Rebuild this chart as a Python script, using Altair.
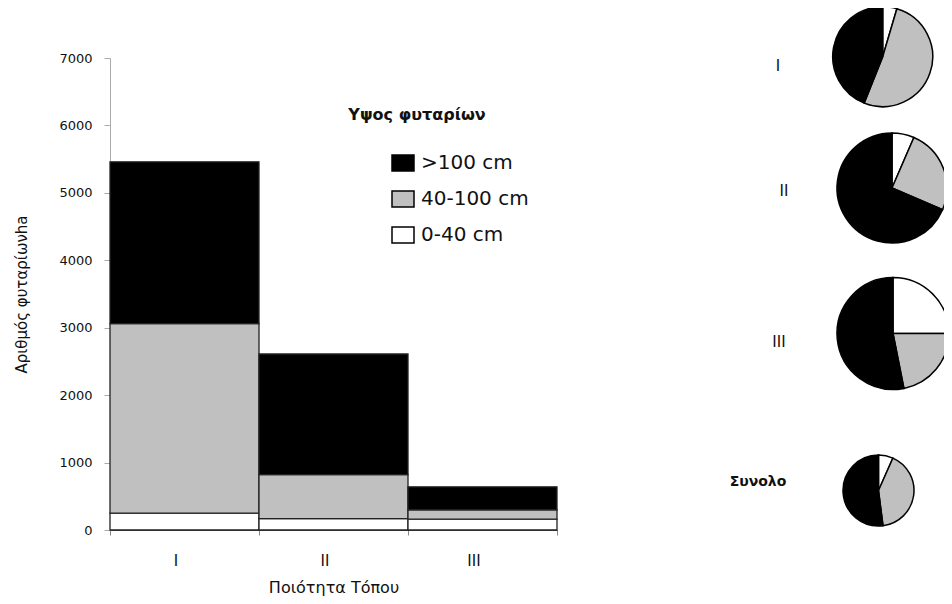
import altair as alt
import pandas as pd

# ---- data ----
sites = ["I", "II", "III"]
classes = ["0-40 cm", "40-100 cm", ">100 cm"]
n_0_40 = [250, 170, 160]
n_40_100 = [2810, 650, 140]
n_over_100 = [2400, 1790, 340]
total_name = "Συνολο"
legend_title = "Υψος φυταρίων"
y_title = "Αριθμός φυταρίωνha"
x_title = "Ποιότητα Τόπου"
y_ticks = [0, 1000, 2000, 3000, 4000, 5000, 6000, 7000]

# ---- tables ----
series = [n_0_40, n_40_100, n_over_100]
rows = []
for i, s in enumerate(sites):
    for k, c in enumerate(classes):
        rows.append({"site": s, "cls": c, "ord": k, "value": series[k][i]})
bars_df = pd.DataFrame(rows)

pie_rows = [dict(r, pie=r["site"]) for r in rows]
for k, c in enumerate(classes):
    pie_rows.append({"site": total_name, "cls": c, "ord": k,
                     "value": sum(series[k]), "pie": total_name})
pie_df = pd.DataFrame(pie_rows)
label_df = pd.DataFrame({"name": sites + [total_name]})
title_df = pd.DataFrame({"name": [legend_title]})

FONT = "DejaVu Sans"
color_scale = alt.Scale(domain=[">100 cm", "40-100 cm", "0-40 cm"],
                        range=["#000000", "#c0c0c0", "#ffffff"])
legend = alt.Legend(
    title=None, orient="none", legendX=281, legendY=93,
    symbolType="M-1,-0.73H1V0.73H-1Z", symbolSize=484,
    symbolStrokeColor="#000000", symbolStrokeWidth=1.5, symbolOpacity=1,
    labelFont=FONT, labelFontSize=20, labelColor="#111111",
    labelOffset=6, rowPadding=12)
color_enc = alt.Color("cls:N", scale=color_scale, legend=legend)

bars = alt.Chart(bars_df).mark_bar(stroke="#222222", strokeWidth=1.3).encode(
    x=alt.X("site:N", sort=sites,
            scale=alt.Scale(paddingInner=0, paddingOuter=0),
            axis=alt.Axis(title=x_title, labelAngle=0, tickBand="extent",
                          domainColor="#555555", tickColor="#888888",
                          tickSize=5, labelPadding=18, labelOffset=-9,
                          labelFont=FONT, labelFontSize=15, labelColor="#111111",
                          titleFont=FONT, titleFontSize=16, titleFontWeight="normal",
                          titleColor="#111111", titlePadding=11)),
    y=alt.Y("value:Q", stack="zero",
            scale=alt.Scale(domain=[0, 7000], nice=False),
            axis=alt.Axis(title=y_title, values=y_ticks, grid=False, format="d",
                          domainColor="#aaaaaa", tickColor="#aaaaaa", tickSize=6,
                          labelPadding=12, labelFont=FONT, labelFontSize=13,
                          labelColor="#111111", titleFont=FONT, titleFontSize=15,
                          titleFontWeight="normal", titleColor="#111111",
                          titlePadding=29)),
    color=color_enc,
    order=alt.Order("ord:Q", sort="ascending"),
)

# pie layout (centre relative to plot origin, radius) - styling only
pie_layout = {
    "I": (772.7, -1.3, 50),
    "II": (782, 130, 55),
    "III": (783, 275.5, 56),
    total_name: (768.5, 432.5, 35.5),
}
label_layout = {
    "I": (668, 8, "normal", 15),
    "II": (674, 133, "normal", 15),
    "III": (669, 284, "normal", 15),
    total_name: (648, 424, "bold", 14),
}

layers = [bars]
for name in sites + [total_name]:
    cx, cy, r = pie_layout[name]
    arc = (alt.Chart(pie_df)
           .transform_filter(alt.datum.pie == name)
           .transform_joinaggregate(total="sum(value)")
           .transform_window(cum="sum(value)", sort=[alt.SortField("ord")],
                             frame=[None, 0])
           .transform_calculate(t1="datum.cum / datum.total",
                                t0="(datum.cum - datum.value) / datum.total")
           .mark_arc(stroke="#000000", strokeWidth=1.5, outerRadius=r)
           .encode(theta=alt.Theta("t0:Q", scale=alt.Scale(domain=[0, 1])),
                   theta2="t1:Q",
                   color=color_enc,
                   x=alt.value(cx), y=alt.value(cy)))
    layers.append(arc)
    lx, ly, fw, fs = label_layout[name]
    txt = (alt.Chart(label_df)
           .transform_filter(alt.datum.name == name)
           .mark_text(font=FONT, fontSize=fs, fontWeight=fw, color="#111111",
                      align="center", baseline="middle")
           .encode(text="name:N", x=alt.value(lx), y=alt.value(ly)))
    layers.append(txt)

ltitle = (alt.Chart(title_df)
          .mark_text(font=FONT, fontSize=16, fontWeight="bold", color="#111111",
                     align="center", baseline="alphabetic")
          .encode(text="name:N", x=alt.value(307), y=alt.value(62)))
layers.append(ltitle)

chart = (alt.layer(*layers)
         .properties(width=447, height=472,
                     background="white",
                     autosize=alt.AutoSizeParams(type="none"),
                     padding={"left": 102, "top": 50, "right": 387, "bottom": 66})
         .configure_view(stroke=None))

chart.save("out.html", embed_options={"renderer": "svg", "actions": False})
